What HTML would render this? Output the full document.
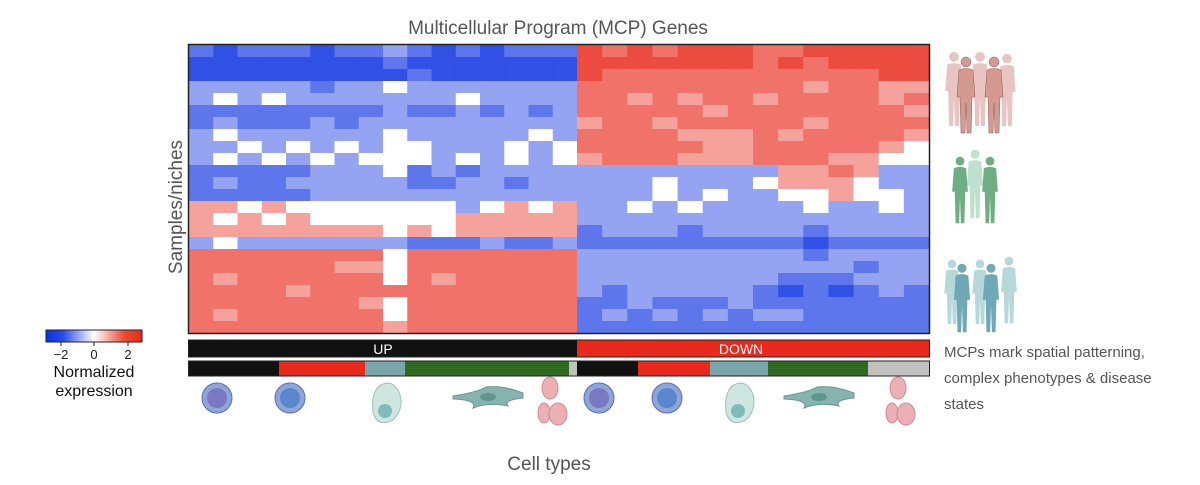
<!DOCTYPE html>
<html><head><meta charset="utf-8"><style>
body{margin:0;background:#fff;width:1200px;height:485px;overflow:hidden;font-family:"Liberation Sans",sans-serif}
svg{display:block}
</style></head><body>
<svg width="1200" height="485" viewBox="0 0 1200 485" xmlns="http://www.w3.org/2000/svg">
<defs>
<linearGradient id="cb" x1="0" x2="1"><stop offset="0" stop-color="#0a2fe0"/><stop offset="0.18" stop-color="#2a4ce8"/><stop offset="0.5" stop-color="#ffffff"/><stop offset="0.82" stop-color="#ec4a36"/><stop offset="1" stop-color="#e8291c"/></linearGradient>
<symbol id="person" viewBox="0 0 20 80"><circle cx="10" cy="7" r="5"/><path d="M3 15 Q10 12 17 15 L19 42 L16 42 L15 78 L11 78 L10 48 L9 78 L5 78 L4 42 L1 42 Z"/></symbol>
</defs>
<text x="558" y="34" text-anchor="middle" font-size="19" fill="#555">Multicellular Program (MCP) Genes</text>
<text transform="translate(182,207) rotate(-90)" text-anchor="middle" font-size="19" fill="#555">Samples/niches</text>
<text x="549" y="470" text-anchor="middle" font-size="19" fill="#555">Cell types</text>
<g id="heat"></g>
<rect x="188.5" y="44.5" width="741" height="289" fill="none" stroke="#222" stroke-width="1.5"/>
<g id="bars"></g>
<text x="383" y="354" text-anchor="middle" font-size="14" fill="#fff">UP</text>
<text x="741" y="354" text-anchor="middle" font-size="14" fill="#fff">DOWN</text>
<g>
<rect x="46" y="330" width="96" height="12" fill="url(#cb)" stroke="#222" stroke-width="1"/>
<line x1="61" y1="342" x2="61" y2="346" stroke="#222"/><line x1="94" y1="342" x2="94" y2="346" stroke="#222"/><line x1="128" y1="342" x2="128" y2="346" stroke="#222"/>
<text x="61" y="359" text-anchor="middle" font-size="13" fill="#222">−2</text>
<text x="94" y="359" text-anchor="middle" font-size="13" fill="#222">0</text>
<text x="128" y="359" text-anchor="middle" font-size="13" fill="#222">2</text>
<text x="94" y="377" text-anchor="middle" font-size="16" fill="#111">Normalized</text>
<text x="94" y="396" text-anchor="middle" font-size="16" fill="#111">expression</text>
</g>
<g font-size="15" fill="#555">
<text x="944" y="357">MCPs mark spatial patterning,</text>
<text x="944" y="383">complex phenotypes &amp; disease</text>
<text x="944" y="409">states</text>
</g>
<g>
<use href="#person" x="944" y="50" width="20" height="78" fill="#e8c4c2"/><use href="#person" x="970" y="50" width="20" height="78" fill="#e8c4c2"/><use href="#person" x="997" y="52" width="20" height="76" fill="#e8c4c2"/>
<use href="#person" x="955" y="55" width="22" height="80" fill="#d49a92" stroke="#8a5a55" stroke-width="0.5"/><use href="#person" x="983" y="55" width="22" height="80" fill="#d49a92" stroke="#8a5a55" stroke-width="0.5"/>
</g>
<g>
<use href="#person" x="965" y="148" width="20" height="72" fill="#bfe0cc"/>
<use href="#person" x="949" y="155" width="22" height="70" fill="#6fae82"/><use href="#person" x="979" y="155" width="22" height="70" fill="#6fae82"/>
</g>
<g>
<use href="#person" x="943" y="258" width="18" height="68" fill="#b7d8da"/><use href="#person" x="971" y="258" width="18" height="68" fill="#b7d8da"/><use href="#person" x="999" y="255" width="20" height="70" fill="#b7d8da"/>
<use href="#person" x="952" y="262" width="20" height="72" fill="#6fa8b6"/><use href="#person" x="981" y="262" width="20" height="72" fill="#6fa8b6"/>
</g>
<g id="cells"></g>
</svg>
<script>
const leftRows=["2122212232121222","1111111121111111","1111111112111111","3333323343333333","3434333333343333","2222222232232323","2322232333333333","3433333343333343","3343434344333434","3434343444343434","2222233342323333","2322333332233233","2222233333333333","5545444444434545","5454544444455555","5555555545455555","3433333332223223","6666666646666666","6666665546666666","6566666646566666","6666566666666666","6666666546666666","6566666646666666","6666666656666666"];
const rightRows=["76767776677777","77777776767777","76666666666677","66666666656655","66565665666656","66666566666665","56656666656666","66665556566665","66666556666654","56665556665544","33333333556533","33343334555433","33343433445443","33434333343343","33333333333333","23332333323333","22222222212222","33333333323333","33333333333233","33333333222333","32333332121232","22322232222222","23232323322222","22222222222222"];
const valueScale=[-2,-1.5,-1,-0.5,0,0.5,1,1.5,2];
const segStarts=[189,279,365,405,569,577,638,710,768,868];
const segCats=["black","red","teal","green","gray","black","red","teal","green","gray"];
const catColors={black:"#111",red:"#e8291c",teal:"#78a6aa",green:"#2e6b1e",gray:"#c0c0c0"};
const NS="http://www.w3.org/2000/svg";
const X0=189,XS=577,X1=929,Y0=45,Y1=333;
function color(v){const t=Math.pow(Math.min(1,Math.abs(v)/2),0.6);const c=v<0?[10,47,224]:[232,41,28];
return "rgb("+Math.round(255+(c[0]-255)*t)+","+Math.round(255+(c[1]-255)*t)+","+Math.round(255+(c[2]-255)*t)+")";}
const heat=document.getElementById('heat');
const nR=leftRows.length,rh=(Y1-Y0)/nR;
function drawHalf(rows,xa,xb){const n=rows[0].length,cw=(xb-xa)/n;
rows.forEach(function(row,r){for(let c=0;c<n;c++){const v=valueScale[+row[c]];const el=document.createElementNS(NS,'rect');
el.setAttribute('x',xa+c*cw);el.setAttribute('y',Y0+r*rh);el.setAttribute('width',cw+0.5);el.setAttribute('height',rh+0.5);el.setAttribute('fill',color(v));


heat.appendChild(el);}});}
drawHalf(leftRows,X0,XS);drawHalf(rightRows,XS,X1);
const bars=document.getElementById('bars');
function rect(x,y,w,h,f,name){const el=document.createElementNS(NS,'rect');el.setAttribute('x',x);el.setAttribute('y',y);el.setAttribute('width',w);el.setAttribute('height',h);el.setAttribute('fill',f);


bars.appendChild(el);return el;}
rect(189,340,388,17,"#111","up-bar");rect(577,340,352,17,"#e8291c","down-bar");
segStarts.forEach(function(s,i){const end=(i+1<segStarts.length?segStarts[i+1]:929);rect(s,361,end-s,15,catColors[segCats[i]],"celltype-segment");});
const b1=rect(188.5,340,741,17,"none","up-down-border");b1.setAttribute('stroke','#222');
const b2=rect(188.5,361,741,15,"none","celltype-border");b2.setAttribute('stroke','#222');
const cells=document.getElementById('cells');
function add(tag,attrs,name){const el=document.createElementNS(NS,tag);for(const k in attrs)el.setAttribute(k,attrs[k]);


cells.appendChild(el);}
function lymph(x,c){add('circle',{cx:x,cy:398,r:15,fill:'#8fa5d8',stroke:'#5a6fae'},'lymphocyte-icon');add('circle',{cx:x,cy:398,r:10,fill:c},'lymphocyte-nucleus');}
function epi(x){add('path',{d:"M"+(x-8)+" 386 Q"+(x+5)+" 378 "+(x+12)+" 392 Q"+(x+18)+" 408 "+(x+6)+" 420 Q"+(x-10)+" 428 "+(x-14)+" 412 Q"+(x-16)+" 394 "+(x-8)+" 386Z",fill:'#cfe5df',stroke:'#9ac0b8'},'epithelial-icon');add('circle',{cx:x-2,cy:411,r:7,fill:'#7fbcb8'},'epithelial-nucleus');}
function fib(x){add('path',{d:"M"+(x-35)+" 396 Q"+(x-10)+" 392 "+(x-2)+" 387 Q"+(x+15)+" 385 "+(x+35)+" 393 L"+(x+35)+" 398 Q"+(x+15)+" 400 "+(x+20)+" 406 Q"+x+" 402 "+(x-15)+" 408 Q"+(x-10)+" 400 "+(x-35)+" 399Z",fill:'#86b3ae',stroke:'#6a9792'},'fibroblast-icon');add('ellipse',{cx:x,cy:397,rx:8,ry:4,fill:'#5d958f'},'fibroblast-nucleus');}
function rbc(x){[[x,388,8,11],[x-6,413,6,10],[x+8,414,9,11]].forEach(function(p){add('ellipse',{cx:p[0],cy:p[1],rx:p[2],ry:p[3],fill:'#eab0b4',stroke:'#d48a90'},'red-cell-icon');});}
lymph(217,'#7b78c2');lymph(290,'#5a86cf');epi(387);fib(488);rbc(550);
lymph(599,'#7b78c2');lymph(667,'#5a86cf');epi(740);fib(819);rbc(898);
</script>
</body></html>
